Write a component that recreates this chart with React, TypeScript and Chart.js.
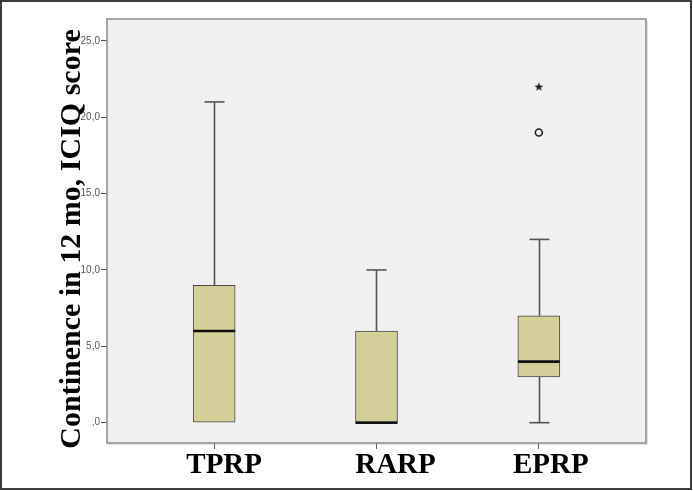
import React, { useEffect, useRef } from 'react';
import { Chart, registerables } from 'chart.js';

Chart.register(...registerables);

const categories = ['TPRP', 'RARP', 'EPRP'];
const positions = [1, 2, 3];
const whiskerLow = [0, 0, 0];
const q1 = [0, 0, 3];
const median = [6, 0, 4];
const q3 = [9, 6, 7];
const whiskerHigh = [21, 10, 12];
const circleOutliers = [{ x: 3, y: 19 }];
const starOutliers = [{ x: 3, y: 22 }];
const yTickValues = [0, 5, 10, 15, 20, 25];
const yTickLabels = [',0', '5,0', '10,0', '15,0', '20,0', '25,0'];
const yTitle = 'Continence in 12 mo, ICIQ score';

// label placement nudges (style only)
const xLabelNudge = [10, 19, 12];

function makeStar(): HTMLCanvasElement {
  const c = document.createElement('canvas');
  c.width = 10;
  c.height = 10;
  const g = c.getContext('2d')!;
  g.fillStyle = '#222';
  g.beginPath();
  for (let i = 0; i < 10; i++) {
    const r = i % 2 === 0 ? 4.6 : 2.0;
    const a = -Math.PI / 2 + (i * Math.PI) / 5;
    const px = 5 + r * Math.cos(a);
    const py = 5.3 + r * Math.sin(a);
    if (i === 0) g.moveTo(px, py);
    else g.lineTo(px, py);
  }
  g.closePath();
  g.fill();
  return c;
}

const boxPlugin = {
  id: 'boxExtras',
  beforeDraw(chart: any) {
    const { ctx, chartArea } = chart;
    ctx.save();
    ctx.fillStyle = '#ffffff';
    ctx.fillRect(0, 0, chart.width, chart.height);
    ctx.fillStyle = '#f0f0f0';
    ctx.fillRect(chartArea.left, chartArea.top, chartArea.right - chartArea.left, chartArea.bottom - chartArea.top);
    ctx.restore();
  },
  beforeDatasetsDraw(chart: any) {
    const { ctx } = chart;
    const xs = chart.scales.x;
    const ys = chart.scales.y;
    ctx.save();
    ctx.strokeStyle = '#555555';
    ctx.lineWidth = 1.6;
    for (let i = 0; i < positions.length; i++) {
      const cx = Math.round(xs.getPixelForValue(positions[i])) + 0.5;
      const capHalf = 10;
      if (whiskerHigh[i] > q3[i]) {
        const yTop = ys.getPixelForValue(whiskerHigh[i]);
        ctx.beginPath();
        ctx.moveTo(cx, ys.getPixelForValue(q3[i]));
        ctx.lineTo(cx, yTop);
        ctx.stroke();
        ctx.beginPath();
        ctx.moveTo(cx - capHalf, yTop);
        ctx.lineTo(cx + capHalf, yTop);
        ctx.stroke();
      }
      if (whiskerLow[i] < q1[i]) {
        const yBot = ys.getPixelForValue(whiskerLow[i]);
        ctx.beginPath();
        ctx.moveTo(cx, ys.getPixelForValue(q1[i]));
        ctx.lineTo(cx, yBot);
        ctx.stroke();
        ctx.beginPath();
        ctx.moveTo(cx - capHalf, yBot);
        ctx.lineTo(cx + capHalf, yBot);
        ctx.stroke();
      }
    }
    ctx.restore();
  },
  afterDatasetsDraw(chart: any) {
    const { ctx } = chart;
    const xs = chart.scales.x;
    const ys = chart.scales.y;
    const meta = chart.getDatasetMeta(0);
    ctx.save();
    ctx.strokeStyle = '#111111';
    ctx.lineWidth = 2.6;
    for (let i = 0; i < positions.length; i++) {
      const bar = meta.data[i];
      const half = bar.width / 2;
      const cx = xs.getPixelForValue(positions[i]);
      const my = ys.getPixelForValue(median[i]);
      ctx.beginPath();
      ctx.moveTo(cx - half, my);
      ctx.lineTo(cx + half, my);
      ctx.stroke();
    }
    ctx.restore();
  },
  afterDraw(chart: any) {
    const { ctx, chartArea } = chart;
    const xs = chart.scales.x;
    ctx.save();
    // plot frame
    ctx.strokeStyle = '#8a8a8a';
    ctx.lineWidth = 1.5;
    ctx.strokeRect(chartArea.left, chartArea.top, chartArea.right - chartArea.left, chartArea.bottom - chartArea.top);
    ctx.strokeStyle = 'rgba(0,0,0,0.12)';
    ctx.lineWidth = 1;
    ctx.beginPath();
    ctx.moveTo(chartArea.right + 1.5, chartArea.top + 2);
    ctx.lineTo(chartArea.right + 1.5, chartArea.bottom + 1.5);
    ctx.lineTo(chartArea.left + 2, chartArea.bottom + 1.5);
    ctx.stroke();
    // x category labels
    ctx.fillStyle = '#000';
    ctx.font = 'bold 29px "Liberation Serif", "Times New Roman", serif';
    ctx.textAlign = 'center';
    ctx.textBaseline = 'alphabetic';
    for (let i = 0; i < categories.length; i++) {
      ctx.fillText(categories[i], xs.getPixelForValue(positions[i]) + xLabelNudge[i], chartArea.bottom + 29.5);
    }
    // y title
    ctx.translate(80, 239);
    ctx.rotate(-Math.PI / 2);
    ctx.font = 'bold 30px "Liberation Serif", "Times New Roman", serif';
    ctx.fillText(yTitle, 0, 0);
    ctx.restore();
    // outer border
    ctx.save();
    ctx.strokeStyle = '#3c3c3c';
    ctx.lineWidth = 2;
    ctx.strokeRect(1, 1, 690, 488);
    ctx.restore();
  },
};

export default function App() {
  const ref = useRef<HTMLCanvasElement | null>(null);
  useEffect(() => {
    if (!ref.current) return;
    const star = makeStar();
    const chart = new Chart(ref.current, {
      type: 'bar',
      data: {
        datasets: [
          {
            type: 'bar',
            data: positions.map((p, i) => ({ x: p, y: [q1[i], q3[i]] })) as any,
            backgroundColor: '#d4cf99',
            borderColor: '#4a4a4a',
            borderWidth: 1,
            borderSkipped: false,
            barThickness: 42,
          } as any,
          {
            type: 'scatter',
            data: circleOutliers as any,
            pointStyle: 'circle',
            radius: 3.5,
            borderWidth: 1.6,
            borderColor: '#222',
            backgroundColor: 'rgba(0,0,0,0)',
          } as any,
          {
            type: 'scatter',
            data: starOutliers as any,
            pointStyle: star,
            radius: 5,
          } as any,
        ],
      },
      options: {
        responsive: false,
        animation: false,
        events: [],
        layout: { padding: { left: 0, top: 19, right: 47, bottom: 0 } },
        plugins: { legend: { display: false }, tooltip: { enabled: false } },
        scales: {
          x: {
            type: 'linear',
            min: 0.34,
            max: 3.66,
            offset: false,
            afterBuildTicks: (s: any) => {
              s.ticks = positions.map((v) => ({ value: v }));
            },
            afterFit: (s: any) => {
              s.height = 48;
            },
            border: { display: false },
            grid: { offset: false, drawOnChartArea: false, drawTicks: true, tickLength: 6, color: '#666', lineWidth: 1 },
            ticks: {
              display: false,
              autoSkip: false,
              maxRotation: 0,
            },
          } as any,
          y: {
            type: 'linear',
            min: -1.33,
            max: 26.43,
            afterBuildTicks: (s: any) => {
              s.ticks = yTickValues.map((v) => ({ value: v }));
            },
            afterFit: (s: any) => {
              s.width = 107;
            },
            border: { display: false },
            grid: { drawOnChartArea: false, drawTicks: true, tickLength: 6, color: '#555', lineWidth: 1 },
            ticks: {
              padding: 1,
              color: '#5a5a5a',
              font: { family: '"Liberation Sans", Arial, sans-serif', size: 10 },
              callback: (v: any) => {
                const idx = yTickValues.indexOf(Number(v));
                return idx >= 0 ? yTickLabels[idx] : '';
              },
            },
          } as any,
        },
      },
      plugins: [boxPlugin],
    });
    return () => chart.destroy();
  }, []);
  return (
    <div style={{ position: 'fixed', left: 0, top: 0, width: 693, height: 491 }}>
      <canvas ref={ref} width={693} height={491} style={{ display: 'block', width: 693, height: 491 }} />
    </div>
  );
}
